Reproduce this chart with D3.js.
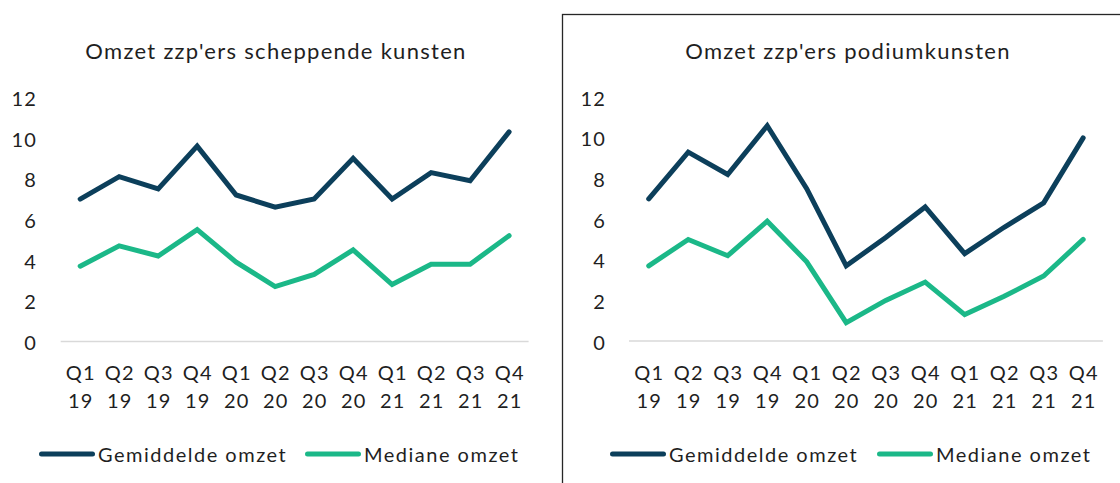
<!DOCTYPE html>
<html>
<head>
<meta charset="utf-8">
<script src="https://cdn.jsdelivr.net/npm/d3@7"></script>
<style>
  html, body { margin: 0; padding: 0; background: #fff; }
  svg text { font-family: Lato, "Open Sans", sans-serif; fill: #1f1f1f; }
</style>
</head>
<body>
<svg id="chart" width="1120" height="483"></svg>
<script>
// Kwartalen (twee regels per label)
const quarters = ["Q1", "Q2", "Q3", "Q4", "Q1", "Q2", "Q3", "Q4", "Q1", "Q2", "Q3", "Q4"];
const years    = ["19", "19", "19", "19", "20", "20", "20", "20", "21", "21", "21", "21"];
const yTicks   = [0, 2, 4, 6, 8, 10, 12];

// Scheppende kunsten
const scheppendGemiddeld = [7.0, 8.1, 7.5, 9.6, 7.2, 6.6, 7.0, 9.0, 7.0, 8.3, 7.9, 10.3];
const scheppendMediaan   = [3.7, 4.7, 4.2, 5.5, 3.9, 2.7, 3.3, 4.5, 2.8, 3.8, 3.8, 5.2];

// Podiumkunsten
const podiumGemiddeld = [7.0, 9.3, 8.2, 10.6, 7.5, 3.7, 5.1, 6.6, 4.3, 5.6, 6.8, 10.0];
const podiumMediaan   = [3.7, 5.0, 4.2, 5.9, 3.9, 0.9, 2.0, 2.9, 1.3, 2.2, 3.2, 5.0];

const seriesNames = ["Gemiddelde omzet", "Mediane omzet"];
const colors = ["#0c3f5b", "#1bb888"];

const svg = d3.select("#chart");

function drawPanel(opts) {
  const g = svg.append("g");
  const x = d3.scaleBand()
    .domain(d3.range(quarters.length))
    .range([opts.x0, opts.x1]);
  const y = d3.scaleLinear().domain([0, 12]).range([opts.yBase, opts.yTop]);

  // Titel
  g.append("text")
    .attr("x", opts.titleX).attr("y", 50)
    .attr("text-anchor", "middle")
    .attr("dominant-baseline", "central")
    .style("font-size", "22px")
    .style("letter-spacing", "1.3px")
    .text(opts.title);

  // Y-as labels
  const yAxis = d3.axisLeft(y).tickValues(yTicks).tickSize(0).tickPadding(0);
  const ya = g.append("g").attr("transform", `translate(${opts.yLabelX},0)`).call(yAxis);
  ya.select(".domain").remove();
  ya.selectAll("text")
    .attr("dy", null)
    .attr("dominant-baseline", "central")
    .style("font-size", "20px")
    .style("letter-spacing", "1.2px")
    .style("font-family", "Lato, 'Open Sans', sans-serif")
    .attr("fill", "#1f1f1f");

  // Basislijn
  g.append("line")
    .attr("x1", opts.x0).attr("x2", opts.x1)
    .attr("y1", y(0)).attr("y2", y(0))
    .attr("stroke", "#d9d9d9").attr("stroke-width", 1.5);

  // X-as labels
  const xl = g.append("g").selectAll("g").data(d3.range(quarters.length)).join("g")
    .attr("transform", i => `translate(${x(i) + x.bandwidth() / 2 + 0.6},0)`);
  xl.append("text").attr("y", 372).attr("text-anchor", "middle")
    .attr("dominant-baseline", "central").style("font-size", "20px")
    .style("letter-spacing", "1.2px")
    .text(i => quarters[i]);
  xl.append("text").attr("y", 400).attr("text-anchor", "middle")
    .attr("dominant-baseline", "central").style("font-size", "20px")
    .style("letter-spacing", "1.2px")
    .text(i => years[i]);

  // Lijnen
  const line = d3.line()
    .x((d, i) => x(i) + x.bandwidth() / 2)
    .y(d => y(d));
  [opts.gem, opts.med].forEach((vals, k) => {
    g.append("path")
      .datum(vals)
      .attr("d", line)
      .attr("fill", "none")
      .attr("stroke", colors[k])
      .attr("stroke-width", 5)
      .attr("stroke-linejoin", "miter")
      .attr("stroke-linecap", "round");
  });

  // Legenda
  opts.legend.forEach((lx, k) => {
    g.append("line")
      .attr("x1", lx + 2.5).attr("x2", lx + 53.5)
      .attr("y1", 454).attr("y2", 454)
      .attr("stroke", colors[k]).attr("stroke-width", 5)
      .attr("stroke-linecap", "round");
    g.append("text")
      .attr("x", lx + 59).attr("y", 454)
      .attr("dominant-baseline", "central")
      .style("font-size", "20px")
      .style("letter-spacing", "1.5px")
      .text(seriesNames[k]);
  });
}

drawPanel({
  title: "Omzet zzp'ers scheppende kunsten",
  titleX: 276,
  x0: 60.7, x1: 528.6, yBase: 341.5, yTop: 97.3,
  yLabelX: 37,
  gem: scheppendGemiddeld, med: scheppendMediaan,
  legend: [39, 305]
});

// Kader rond het tweede paneel
svg.append("rect")
  .attr("x", 562.5).attr("y", 14.5)
  .attr("width", 600).attr("height", 500)
  .attr("fill", "none").attr("stroke", "#262626").attr("stroke-width", 1.3);

drawPanel({
  title: "Omzet zzp'ers podiumkunsten",
  titleX: 848,
  x0: 629, x1: 1102.9, yBase: 341, yTop: 97.3,
  yLabelX: 606,
  gem: podiumGemiddeld, med: podiumMediaan,
  legend: [610, 877]
});
</script>
</body>
</html>
